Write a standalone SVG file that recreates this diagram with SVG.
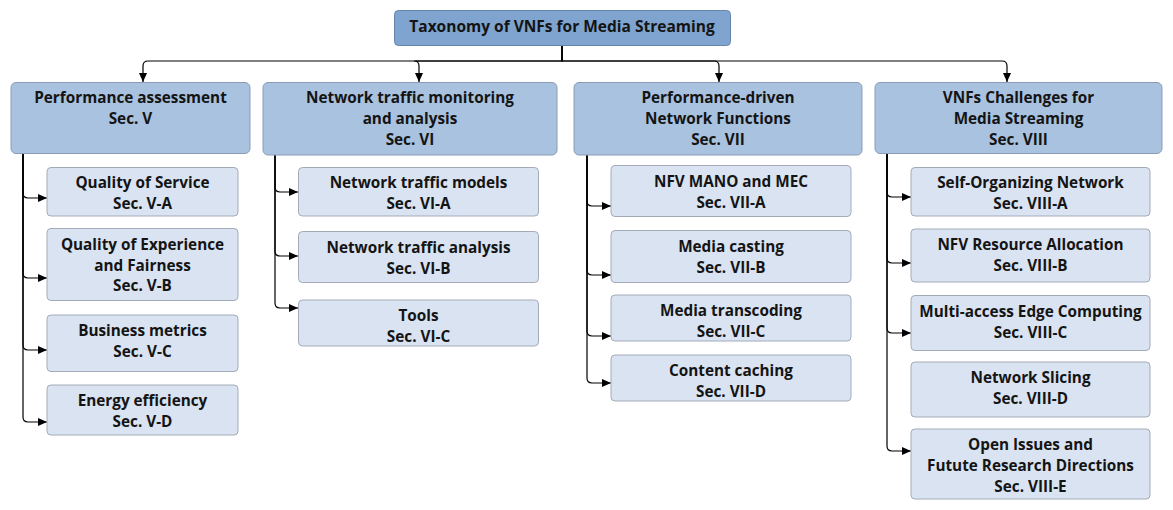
<svg xmlns="http://www.w3.org/2000/svg" width="1173" height="510" viewBox="0 0 1173 510">
<style>
text{font-family:"Open Sans","Noto Sans","Liberation Sans",sans-serif;font-weight:700;font-size:15.3px;fill:#141414;text-anchor:middle}
.root rect{fill:#7ea4cf;stroke:#6584aa;stroke-width:1}
.l1 rect{fill:#a9c2df;stroke:#8a9cb4;stroke-width:1}
.l2 rect{fill:#dae3f1;stroke:#a3abb8;stroke-width:1}
.root text{font-size:15.5px}
#connectors path{fill:none;stroke:#000;stroke-width:1.2;marker-end:url(#arr)}
</style>
<defs>
<marker id="arr" markerWidth="10" markerHeight="8" refX="9" refY="4" orient="auto" markerUnits="userSpaceOnUse">
<path d="M0,0 L9,4 L0,8 Z" fill="#000"/>
</marker>
</defs>
<rect width="1173" height="510" fill="#fff"/>
<g id="connectors">
<path d="M562,46 V61 H148 Q143,61 143,66 V82"/>
<path d="M562,46 V61 H414 Q419,61 419,66 V82"/>
<path d="M562,46 V61 H714 Q719,61 719,66 V82"/>
<path d="M562,46 V61 H1002 Q1007,61 1007,66 V82"/>
<path d="M23,153 V193 Q23,198 28,198 H47"/>
<path d="M23,153 V273 Q23,278 28,278 H47"/>
<path d="M23,153 V345 Q23,350 28,350 H47"/>
<path d="M23,153 V417 Q23,422 28,422 H47"/>
<path d="M275,155 V187 Q275,192 280,192 H298"/>
<path d="M275,155 V251 Q275,256 280,256 H298"/>
<path d="M275,155 V303 Q275,308 280,308 H298"/>
<path d="M587,155 V201 Q587,206 592,206 H611"/>
<path d="M587,155 V270 Q587,275 592,275 H611"/>
<path d="M587,155 V331 Q587,336 592,336 H611"/>
<path d="M587,155 V378 Q587,383 592,383 H611"/>
<path d="M887,153 V192 Q887,197 892,197 H911"/>
<path d="M887,153 V258 Q887,263 892,263 H911"/>
<path d="M887,153 V328 Q887,333 892,333 H911"/>
<path d="M887,153 V446 Q887,451 892,451 H911"/>
</g>
<g id="root" class="root"><rect x="394.5" y="10.5" width="336" height="35" rx="4"/><text x="562" y="32">Taxonomy of VNFs for Media Streaming</text></g>
<g id="perf" class="l1"><rect x="11" y="82.5" width="239" height="71" rx="5"/><text x="130.5" y="103">Performance assessment</text><text x="130.5" y="124">Sec. V</text></g>
<g id="traffic" class="l1"><rect x="263" y="82.5" width="294" height="72.5" rx="5"/><text x="410" y="103">Network traffic monitoring</text><text x="410" y="124">and analysis</text><text x="410" y="145">Sec. VI</text></g>
<g id="pdnf" class="l1"><rect x="574" y="82.5" width="288" height="72.5" rx="5"/><text x="718" y="103">Performance-driven</text><text x="718" y="124">Network Functions</text><text x="718" y="145">Sec. VII</text></g>
<g id="challenges" class="l1"><rect x="875" y="82.5" width="287" height="71" rx="5"/><text x="1018.5" y="103">VNFs Challenges for</text><text x="1018.5" y="124">Media Streaming</text><text x="1018.5" y="145">Sec. VIII</text></g>
<g id="qos" class="l2"><rect x="47" y="167.5" width="191" height="48.5" rx="4"/><text x="142.5" y="188">Quality of Service</text><text x="142.5" y="209">Sec. V-A</text></g>
<g id="qoe" class="l2"><rect x="47" y="228.5" width="191" height="72" rx="4"/><text x="142.5" y="250">Quality of Experience</text><text x="142.5" y="270.5">and Fairness</text><text x="142.5" y="291">Sec. V-B</text></g>
<g id="business" class="l2"><rect x="47" y="315" width="191" height="56.5" rx="4"/><text x="142.5" y="336">Business metrics</text><text x="142.5" y="357">Sec. V-C</text></g>
<g id="energy" class="l2"><rect x="47" y="385" width="191" height="50" rx="4"/><text x="142.5" y="406">Energy efficiency</text><text x="142.5" y="427">Sec. V-D</text></g>
<g id="models" class="l2"><rect x="298.5" y="167.5" width="240" height="48.5" rx="4"/><text x="418.5" y="188">Network traffic models</text><text x="418.5" y="209">Sec. VI-A</text></g>
<g id="analysis" class="l2"><rect x="298.5" y="231.5" width="240" height="51" rx="4"/><text x="418.5" y="252.5">Network traffic analysis</text><text x="418.5" y="273.5">Sec. VI-B</text></g>
<g id="tools" class="l2"><rect x="298.5" y="300" width="240" height="46" rx="4"/><text x="418.5" y="321">Tools</text><text x="418.5" y="342">Sec. VI-C</text></g>
<g id="mano" class="l2"><rect x="611" y="165.5" width="240" height="51" rx="4"/><text x="731" y="186.5">NFV MANO and MEC</text><text x="731" y="207.5">Sec. VII-A</text></g>
<g id="casting" class="l2"><rect x="611" y="230.5" width="240" height="52" rx="4"/><text x="731" y="251.5">Media casting</text><text x="731" y="272.5">Sec. VII-B</text></g>
<g id="transcoding" class="l2"><rect x="611" y="295" width="240" height="46" rx="4"/><text x="731" y="315.5">Media transcoding</text><text x="731" y="336.5">Sec. VII-C</text></g>
<g id="caching" class="l2"><rect x="611" y="355" width="240" height="46" rx="4"/><text x="731" y="375.5">Content caching</text><text x="731" y="396.5">Sec. VII-D</text></g>
<g id="son" class="l2"><rect x="911" y="167.5" width="239" height="48.5" rx="4"/><text x="1030.5" y="188">Self-Organizing Network</text><text x="1030.5" y="209">Sec. VIII-A</text></g>
<g id="nfvra" class="l2"><rect x="911" y="229" width="239" height="53" rx="4"/><text x="1030.5" y="250">NFV Resource Allocation</text><text x="1030.5" y="271">Sec. VIII-B</text></g>
<g id="mec" class="l2"><rect x="911" y="295.5" width="239" height="55" rx="4"/><text x="1030.5" y="316.5">Multi-access Edge Computing</text><text x="1030.5" y="337.5">Sec. VIII-C</text></g>
<g id="slicing" class="l2"><rect x="911" y="362" width="239" height="55" rx="4"/><text x="1030.5" y="383">Network Slicing</text><text x="1030.5" y="404">Sec. VIII-D</text></g>
<g id="open" class="l2"><rect x="911" y="429" width="239" height="70" rx="4"/><text x="1030.5" y="449.5">Open Issues and</text><text x="1030.5" y="470.5">Futute Research Directions</text><text x="1030.5" y="491.5">Sec. VIII-E</text></g>
</svg>
